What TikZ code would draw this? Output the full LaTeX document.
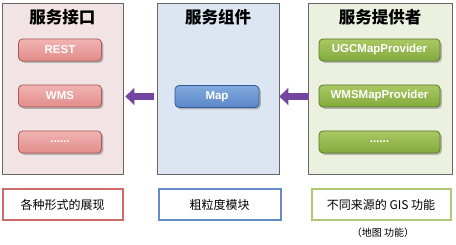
\documentclass[tikz,border=0pt]{standalone}
\usepackage{fontspec}
\setmainfont{Liberation Sans}
\newfontfamily\cjk{Noto Sans CJK SC}
\usetikzlibrary{arrows.meta,calc}
\definecolor{panelR}{RGB}{242,228,228}
\definecolor{panelB}{RGB}{220,230,242}
\definecolor{panelG}{RGB}{235,241,222}
\definecolor{btnRtop}{RGB}{240,180,178}
\definecolor{btnR}{RGB}{226,140,138}
\definecolor{btnRd}{RGB}{170,90,88}
\definecolor{btnBtop}{RGB}{130,170,222}
\definecolor{btnB}{RGB}{90,135,200}
\definecolor{btnBd}{RGB}{50,90,150}
\definecolor{btnGtop}{RGB}{170,200,100}
\definecolor{btnG}{RGB}{130,170,60}
\definecolor{btnGd}{RGB}{90,120,40}
\definecolor{arrC}{RGB}{115,68,160}
\definecolor{noteR}{RGB}{205,105,103}
\definecolor{noteB}{RGB}{100,140,200}
\definecolor{noteG}{RGB}{175,200,115}
\tikzset{
  panel/.style={draw=black!60, line width=0.8pt, inner sep=0pt},
  ptitle/.style={font=\cjk\bfseries\fontsize{16.5}{16.5}\selectfont, inner sep=0pt, anchor=center},
  btn/.style={rounded corners=4pt, minimum height=22pt, inner sep=0pt,
     font=\bfseries\fontsize{11.5}{11.5}\selectfont, text=white, line width=0.8pt},
  btnshadow/.style={fill=black!45, fill opacity=0.6, rounded corners=4pt},
  note/.style={draw, line width=2pt, fill=white, minimum height=31pt, inner sep=0pt,
     font=\cjk\fontsize{12}{12}\selectfont},
  arrowstyle/.style={draw=arrC, line width=7pt, -{Triangle[width=17pt,length=9pt]}}
}
\begin{document}
\begin{tikzpicture}[x=1pt,y=-1pt]
\useasboundingbox (0,0) rectangle (456,245);
% panels
\node[panel, fill=panelR, minimum width=121pt, minimum height=171pt] (leftpanel) at (62.5,88.5) {};
\node[panel, fill=panelB, minimum width=122pt, minimum height=171pt] (midpanel) at (218,88.5) {};
\node[panel, fill=panelG, minimum width=144pt, minimum height=171pt] (rightpanel) at (380,88.5) {};
% titles
\node[ptitle] (t1) at (62.5,17) {服务接口};
\node[ptitle] (t2) at (218,17) {服务组件};
\node[ptitle] (t3) at (380,17) {服务提供者};
% shadows
\foreach \y in {50,96,142}{
  \fill[btnshadow] (60+1.8-41.5,\y+1.8-11) rectangle (60+1.8+41.5,\y+1.8+11);
  \fill[btnshadow] (379.5+1.8-60.5,\y+1.8-11) rectangle (379.5+1.8+60.5,\y+1.8+11);
}
\fill[btnshadow] (217+1.8-42,96.5+1.8-11) rectangle (217+1.8+42,96.5+1.8+11);
% left buttons
\node[btn, draw=btnRd, top color=btnRtop, bottom color=btnR, minimum width=83pt] (rest) at (60,50) {REST};
\node[btn, draw=btnRd, top color=btnRtop, bottom color=btnR, minimum width=83pt] (wms) at (60,96) {WMS};
\node[btn, draw=btnRd, top color=btnRtop, bottom color=btnR, minimum width=83pt] (ldots) at (60,142) {......};
% middle button
\node[btn, draw=btnBd, top color=btnBtop, bottom color=btnB, minimum width=84pt] (map) at (217,96.5) {Map};
% right buttons
\node[btn, draw=btnGd, top color=btnGtop, bottom color=btnG, minimum width=121pt] (ugc) at (379.5,50) {UGCMapProvider};
\node[btn, draw=btnGd, top color=btnGtop, bottom color=btnG, minimum width=121pt] (wmsp) at (379.5,96) {WMSMapProvider};
\node[btn, draw=btnGd, top color=btnGtop, bottom color=btnG, minimum width=121pt] (rdots) at (379.5,142) {......};
% arrows
\draw[arrowstyle] ([xshift=-3pt]midpanel.west |- map.center) -- ([xshift=2pt]leftpanel.east |- map.center);
\draw[arrowstyle] ([xshift=1pt]rightpanel.west |- map.center) -- (midpanel.east |- map.center);
% notes
\node[note, draw=noteR, minimum width=120pt] (n1) at (62.5,205) {各种形式的展现};
\node[note, draw=noteB, minimum width=122pt] (n2) at (219.5,205) {粗粒度模块};
\node[note, draw=noteG, minimum width=139pt] (n3) at (381,205) {不同来源的 GIS 功能};
\node[font=\cjk\fontsize{10}{10}\selectfont, inner sep=0pt] (n4) at (383,233) {（地图 功能）};
\end{tikzpicture}
\end{document}
